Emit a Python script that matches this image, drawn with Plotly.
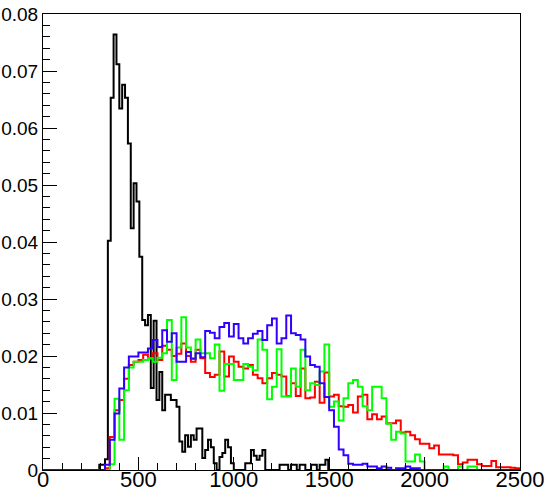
import numpy as np
import plotly.graph_objects as go

# ---- colored histograms: 25-unit bins starting at 300 ----
color_start = 300.0
color_width = 25.0
blue_vals = [0, 0.0009, 0.0053, 0.0099, 0.0143, 0.0180, 0.0199, 0.0199, 0.0206, 0.0206,
             0.0213, 0.0228, 0.0216, 0.0245, 0.0225, 0.0240, 0.0190, 0.0190, 0.0207, 0.0195,
             0.0205, 0.0198, 0.0244, 0.0241, 0.0231, 0.0251, 0.0258, 0.0234, 0.0256, 0.0231,
             0.0222, 0.0231, 0.0239, 0.0244, 0.0228, 0.0254, 0.0266, 0.0222, 0.0231, 0.0271,
             0.0240, 0.0237, 0.0229, 0.0199, 0.0184, 0.0181, 0.0152, 0.0128, 0.0105, 0.0076,
             0.0036, 0.0026, 0.0011, 0.0009, 0.0009, 0.0011, 0.0006, 0.0006, 0.0003, 0.0006,
             0.0004, 0.0, 0.0003, 0.0003, 0.0006, 0.0003, 0.0003, 0, 0, 0,
             0, 0, 0, 0, 0, 0, 0, 0, 0, 0,
             0, 0, 0, 0, 0, 0, 0, 0]
red_vals = [0, 0.0003, 0.0058, 0.0105, 0.0123, 0.0160, 0.0184, 0.0190, 0.0193, 0.0202,
            0.0196, 0.0205, 0.0193, 0.0218, 0.0211, 0.0200, 0.0204, 0.0222, 0.0200, 0.0190,
            0.0211, 0.0196, 0.0170, 0.0163, 0.0167, 0.0208, 0.0164, 0.0199, 0.0190, 0.0181,
            0.0178, 0.0184, 0.0167, 0.0161, 0.0152, 0.0161, 0.0170, 0.0167, 0.0164, 0.0130,
            0.0152, 0.0130, 0.0178, 0.0126, 0.0127, 0.0155, 0.0118, 0.0171, 0.0129, 0.0132,
            0.0112, 0.0111, 0.0114, 0.0101, 0.0129, 0.0132, 0.0089, 0.0098, 0.0089, 0.0094,
            0.0082, 0.0082, 0.0087, 0.0066, 0.0067, 0.0061, 0.0054, 0.0046, 0.0046, 0.0038,
            0.0043, 0.0027, 0.0027, 0.0027, 0.0026, 0.0010, 0.0013, 0.0018, 0.0018, 0.0010,
            0.0007, 0.0007, 0.0016, 0.0005, 0.0005, 0.0005, 0.0004, 0.0003]
green_vals = [0, 0, 0.0010, 0.0125, 0.0053, 0.0140, 0.0180, 0.0190, 0.0190, 0.0193,
              0.0196, 0.0190, 0.0197, 0.0205, 0.0263, 0.0158, 0.0215, 0.0268, 0.0215, 0.0196,
              0.0229, 0.0205, 0.0205, 0.0196, 0.0220, 0.0139, 0.0186, 0.0186, 0.0158, 0.0158,
              0.0186, 0.0181, 0.0175, 0.0229, 0.0211, 0.0124, 0.0146, 0.0212, 0.0129, 0.0129,
              0.0178, 0.0146, 0.0211, 0.0140, 0.0152, 0.0149, 0.0173, 0.0220, 0.0111, 0.0120,
              0.0087, 0.0126, 0.0152, 0.0158, 0.0146, 0.0112, 0.0105, 0.0146, 0.0146, 0.0126,
              0.0081, 0.0053, 0.0067, 0.0064, 0.0015, 0.0015, 0.0027, 0.0015, 0, 0,
              0, 0, 0.0006, 0, 0, 0.0006, 0, 0.0006, 0.0006, 0,
              0, 0, 0, 0, 0, 0, 0, 0]

# ---- black histogram: 15-unit bins starting at 280 ----
black_start = 280.0
black_width = 15.0
black_vals = [0, 0.0009, 0.0009, 0.0019, 0.0402, 0.0653, 0.0764, 0.0712, 0.0634, 0.0676,
              0.0653, 0.0573, 0.0424, 0.0503, 0.0471, 0.0374, 0.0263, 0.0254, 0.0272, 0.0144,
              0.0262, 0.0123, 0.0172, 0.0105, 0.0132, 0.0132, 0.0123, 0.0123, 0.0111, 0.0050,
              0.0032, 0.0061, 0.0041, 0.0061, 0.0053, 0.0073, 0.0073, 0.0021, 0.0035, 0.0053,
              0.0040, 0.0012, 0.0, 0.0023, 0.0030, 0.0053, 0.0040, 0.0012, 0, 0,
              0, 0, 0.0012, 0.0012, 0.0035, 0.0025, 0.0018, 0.0025, 0.0035, 0,
              0, 0, 0, 0, 0.0009, 0.0009, 0.0009, 0, 0.0009, 0.0009,
              0, 0.0009, 0.0009, 0, 0, 0.0009, 0.0009, 0, 0.0009, 0.0009,
              0.0018, 0]

x_ticks = [0, 500, 1000, 1500, 2000, 2500]
y_ticks = [0, 0.01, 0.02, 0.03, 0.04, 0.05, 0.06, 0.07, 0.08]
y_labels = ["0", "0.01", "0.02", "0.03", "0.04", "0.05", "0.06", "0.07", "0.08"]
X_MIN, X_MAX = 0, 2500


def step_xy(start, width, vals, x_min, x_max):
    lows = start + width * np.arange(len(vals))
    xs = [x_min] + list(lows) + [lows[-1] + width, x_max]
    ys = [0] + list(vals) + [0, 0]
    return xs, ys


fig = go.Figure()
series = [
    ("black", black_start, black_width, black_vals, "#000000"),
    ("red", color_start, color_width, red_vals, "#ff0000"),
    ("green", color_start, color_width, green_vals, "#00ff00"),
    ("blue", color_start, color_width, blue_vals, "#3300ff"),
]
for name, st, w, vals, col in series:
    xs, ys = step_xy(st, w, vals, X_MIN, X_MAX)
    fig.add_trace(go.Scatter(x=xs, y=ys, mode="lines", line=dict(shape="hv", color=col, width=2),
                             name=name, showlegend=False, hoverinfo="skip"))

font_family = "Liberation Sans, Arial, Helvetica, sans-serif"
fig.update_layout(
    width=545, height=494,
    margin=dict(l=43, r=25, t=14, b=24, autoexpand=False),
    paper_bgcolor="white", plot_bgcolor="white",
    showlegend=False,
)
fig.update_xaxes(
    automargin=False,
    range=[X_MIN, X_MAX], showgrid=False, zeroline=False,
    showline=True, linecolor="black", linewidth=1, mirror=True,
    ticks="inside", ticklen=13, tickwidth=1, tickcolor="black",
    tickvals=x_ticks, ticktext=[str(v) for v in x_ticks],
    tickfont=dict(family=font_family, size=22, color="black"),
    ticklabelstandoff=-10, ticklabeloverflow="allow",
    minor=dict(ticks="inside", ticklen=7, dtick=100, tick0=0, tickcolor="black", showgrid=False),
)
fig.update_yaxes(
    automargin=False,
    range=[0, 0.08], showgrid=False, zeroline=False,
    showline=True, linecolor="black", linewidth=1, mirror=True,
    ticks="inside", ticklen=14, tickwidth=1, tickcolor="black",
    tickvals=y_ticks, ticktext=y_labels,
    tickfont=dict(family=font_family, size=19, color="black"),
    ticklabeloverflow="allow",
    minor=dict(ticks="inside", ticklen=7, dtick=0.002, tick0=0, tickcolor="black", showgrid=False),
)
# remove the default 8px page margin so the figure sits at the window's corner
fig.write_html("out.html", config={"displayModeBar": False},
               post_script="document.body.style.margin='0px';")
